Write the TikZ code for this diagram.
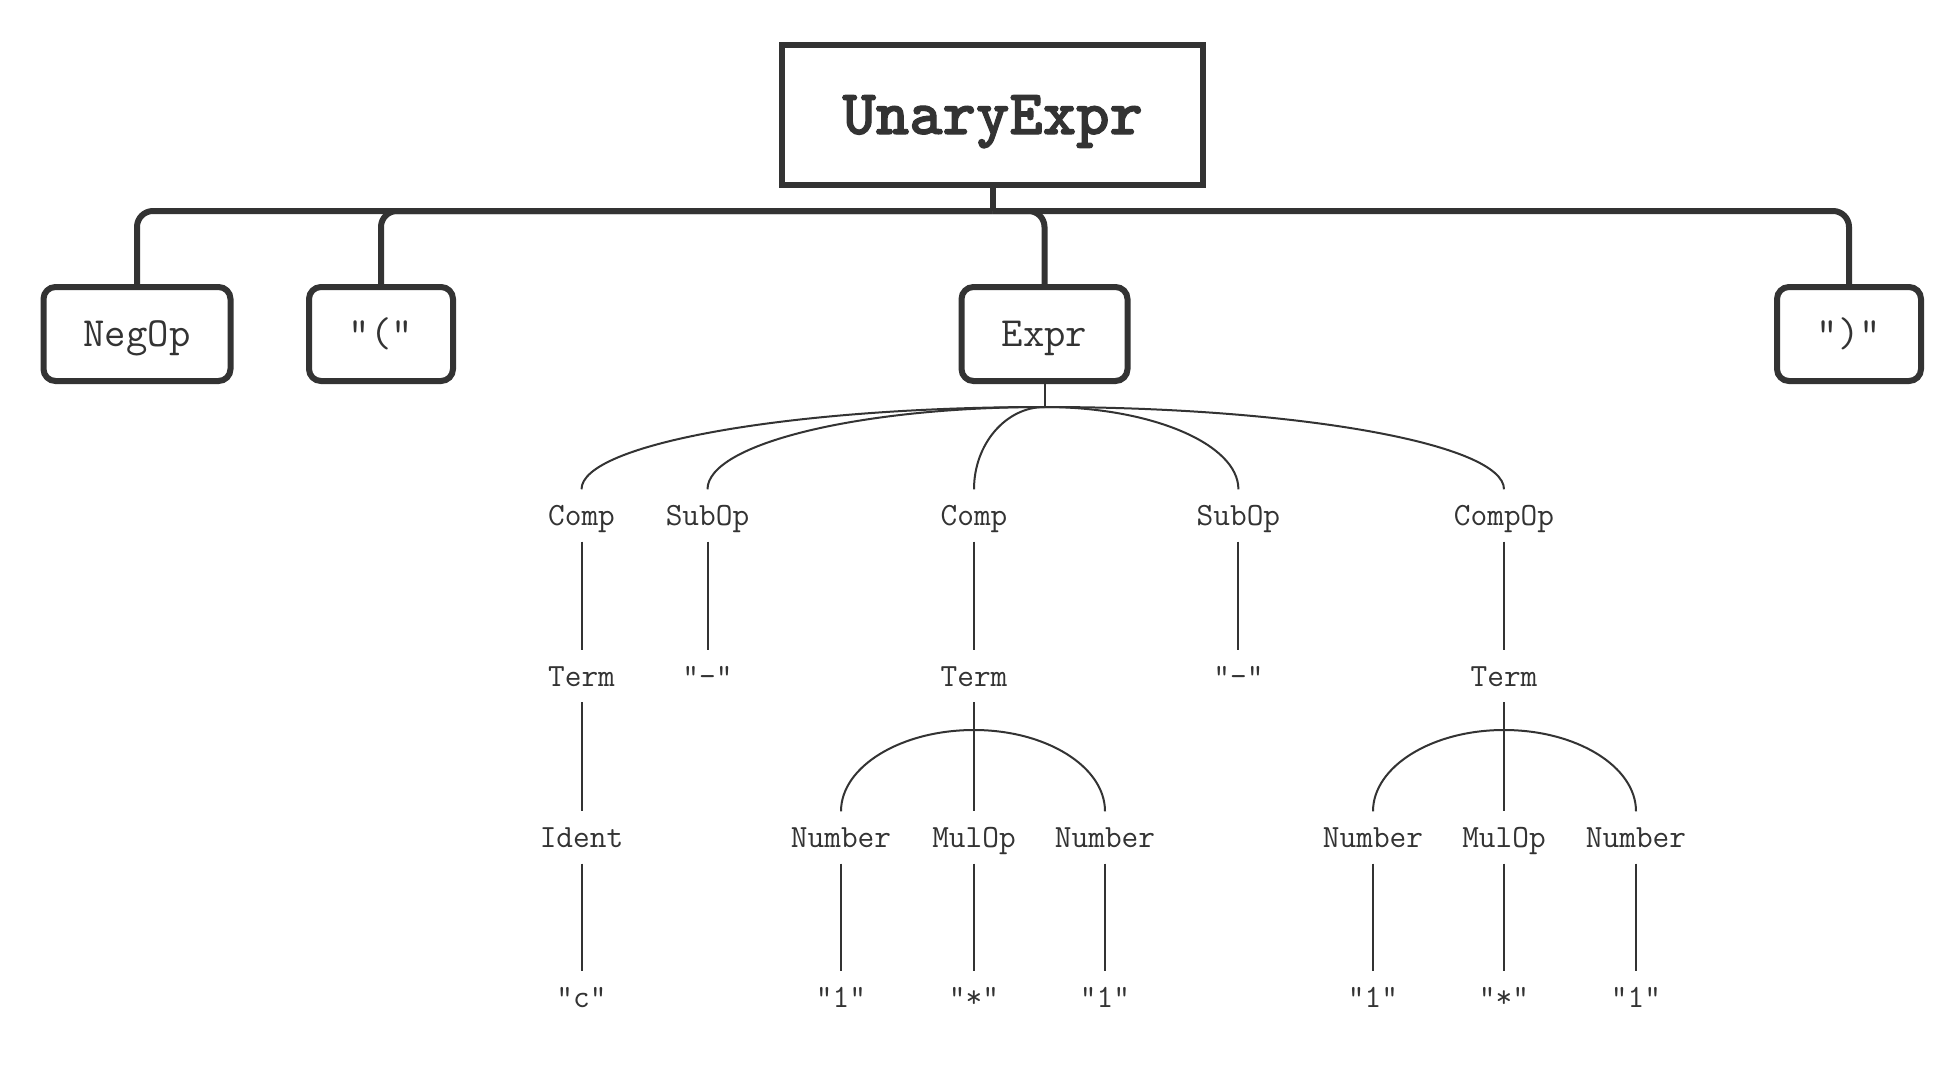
\documentclass[tikz,border=0pt]{standalone}
\usepackage{fontspec}
\newfontfamily\heavymono{lmmonolt10-bold}[Extension=.otf, FakeBold=1.6]
\usetikzlibrary{calc}
\definecolor{ink}{HTML}{333333}
\tikzset{
  heavy/.style={draw=ink, line width=6pt},
  thin/.style={draw=ink, line width=2pt},
  rootbox/.style={draw=ink, line width=6pt, fill=white, inner sep=0pt,
    minimum width=421pt, minimum height=140pt, text=ink,
    font=\fontsize{63.6}{70}\selectfont\heavymono, text height=38.5pt, text depth=0pt},
  kidbox/.style={draw=ink, line width=6pt, fill=white, inner sep=0pt, rounded corners=12pt,
    minimum height=94pt, text=ink,
    font=\fontsize{41.5}{48}\selectfont\ttfamily, text height=25.3pt, text depth=0pt},
  lab/.style={text=ink, font=\fontsize{32.4}{36}\selectfont\ttfamily, inner xsep=0pt,
    inner ysep=6pt, text height=30pt, text depth=10pt, anchor=base},
}
\newcommand{\qlink}[2]{\draw[thin] (#1) .. controls ($(#1)!0.55!(#2|-#1)$) and ($(#2)!0.55!(#2|-#1)$) .. (#2);}
\begin{document}
\begin{tikzpicture}[x=1pt,y=-1pt]
\useasboundingbox (0,0) rectangle (1936,1076);
% top level
\node[rootbox] (u) at (992.7,114.8) {UnaryExpr};
\node[kidbox, minimum width=187pt] (neg) at (137,334) {NegOp};
\node[kidbox, minimum width=144pt] (lp) at (381,334) {"("};
\node[kidbox, minimum width=166pt] (ex) at (1044.5,334) {Expr};
\node[kidbox, minimum width=144pt] (rp) at (1849,334) {")"};
\coordinate (bj) at (992.7,211);
\draw[heavy] (u.south) -- (bj);
\draw[heavy, rounded corners=16pt] (bj) -| (neg.north);
\draw[heavy, rounded corners=16pt] (bj) -| (lp.north);
\draw[heavy, rounded corners=16pt] (bj) -| (ex.north);
\draw[heavy, rounded corners=16pt] (bj) -| (rp.north);
% tree labels
\node[lab] (c1) at (581.5,525.5) {Comp};
\node[lab] (s1) at (707.5,525.5) {SubOp};
\node[lab] (c2) at (974,525.5) {Comp};
\node[lab] (s2) at (1238.4,525.5) {SubOp};
\node[lab] (co) at (1504,525.5) {CompOp};
\node[lab] (t1) at (581.5,686) {Term};
\node[lab] (m1) at (707.5,686) {"-"};
\node[lab] (t2) at (974,686) {Term};
\node[lab] (m2) at (1238.4,686) {"-"};
\node[lab] (t3) at (1504,686) {Term};
\node[lab] (id) at (581.5,847.5) {Ident};
\node[lab] (n1) at (841,847.5) {Number};
\node[lab] (mo1) at (974,847.5) {MulOp};
\node[lab] (n2) at (1105,847.5) {Number};
\node[lab] (n3) at (1373,847.5) {Number};
\node[lab] (mo2) at (1504,847.5) {MulOp};
\node[lab] (n4) at (1636,847.5) {Number};
\node[lab] (l0) at (581.5,1007) {"c"};
\node[lab] (l1) at (841,1007) {"1"};
\node[lab] (l2) at (974,1007) {"*"};
\node[lab] (l3) at (1105,1007) {"1"};
\node[lab] (l4) at (1373,1007) {"1"};
\node[lab] (l5) at (1504,1007) {"*"};
\node[lab] (l6) at (1636,1007) {"1"};
% Expr fan-out
\coordinate (ej) at (ex.south |- 0,407);
\draw[thin] (ex.south) -- (ej);
\qlink{ej}{c1.north}
\qlink{ej}{s1.north}
\qlink{ej}{c2.north}
\qlink{ej}{s2.north}
\qlink{ej}{co.north}
% verticals
\draw[thin] (c1.south) -- (t1.north);
\draw[thin] (t1.south) -- (id.north);
\draw[thin] (id.south) -- (l0.north);
\draw[thin] (s1.south) -- (m1.north);
\draw[thin] (c2.south) -- (t2.north);
\draw[thin] (s2.south) -- (m2.north);
\draw[thin] (co.south) -- (t3.north);
% Term groups
\coordinate (tj1) at (974,730);
\coordinate (tj2) at (1504,730);
\draw[thin] (t2.south) -- (mo1.north);
\qlink{tj1}{n1.north}
\qlink{tj1}{n2.north}
\draw[thin] (t3.south) -- (mo2.north);
\qlink{tj2}{n3.north}
\qlink{tj2}{n4.north}
% leaves
\draw[thin] (n1.south) -- (l1.north);
\draw[thin] (mo1.south) -- (l2.north);
\draw[thin] (n2.south) -- (l3.north);
\draw[thin] (n3.south) -- (l4.north);
\draw[thin] (mo2.south) -- (l5.north);
\draw[thin] (n4.south) -- (l6.north);
\end{tikzpicture}
\end{document}
